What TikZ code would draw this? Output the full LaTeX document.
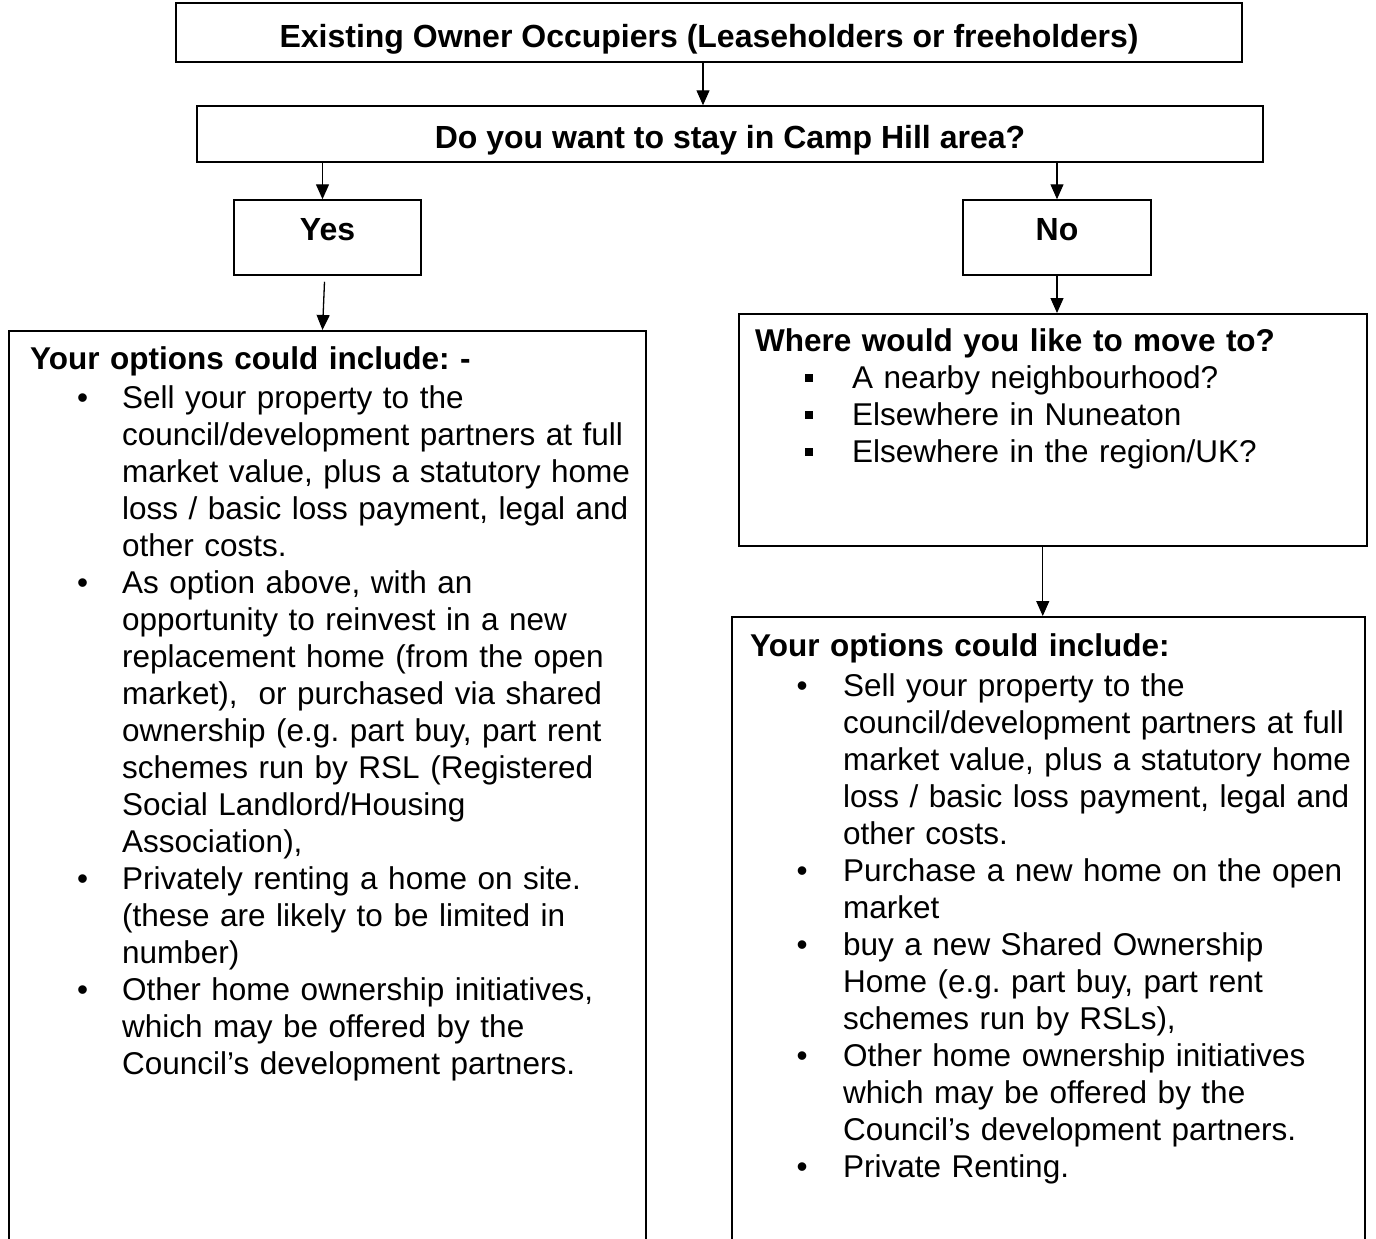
\documentclass[tikz,border=0pt]{standalone}
\usepackage{fontspec}
\setmainfont{Liberation Sans}
\usepackage{enumitem}
\usetikzlibrary{arrows.meta}

\newcommand{\testo}{\fontsize{31.5pt}{37pt}\selectfont}
\newcommand{\testotitolo}{\fontsize{32pt}{37pt}\selectfont}
\newcommand{\quadretto}{\rule[6pt]{8pt}{8pt}}
\setlist[itemize]{topsep=2pt, partopsep=0pt, itemsep=0pt, parsep=0pt, label=\textbullet}
\frenchspacing

\begin{document}
\begin{tikzpicture}[x=1pt, y=-1pt,
    riquadro/.style={draw, line width=1.5pt, inner sep=0pt},
    titolo/.style={riquadro, font=\testotitolo\bfseries, anchor=base},
    cornice/.style={riquadro, anchor=north west},
    elenco/.style={font=\testo, inner sep=0pt, text width=#1, align=left, anchor=base west},
    freccia/.style={-{Triangle[length=15pt,width=13pt]}, line width=1.3pt}]

    \useasboundingbox (0,0) rectangle (1376,1239);
    \clip (0,0) rectangle (1376,1239);

    % Domande
    \node[titolo, minimum width=1066pt, text height=45pt, text depth=14pt] (owners) at (709,48) {Existing Owner Occupiers (Leaseholders or freeholders)};
    \node[titolo, minimum width=1066pt, text height=42pt, text depth=14pt] (stay) at (730,148) {Do you want to stay in Camp Hill area?};

    % Risposte
    \node[titolo, minimum width=187pt, text height=40pt, text depth=35pt] (yes) at (327.5,240) {Yes};
    \node[titolo, minimum width=188pt, text height=40pt, text depth=35pt] (no) at (1057,240) {No};

    % Cornici (aperte in basso)
    \node[cornice, minimum width=637pt, minimum height=970pt] (stayopts) at (8,330) {};
    \node[cornice, minimum width=628pt, minimum height=232pt] (where) at (738,313) {};
    \node[cornice, minimum width=633pt, minimum height=700pt] (moveopts) at (731,616) {};

    % Testo a sinistra
    \node[elenco=640pt] (staytxt) at (30,369) {\textbf{Your options could include: -}
      \begin{itemize}[leftmargin=92pt, labelsep=34pt]
        \item Sell your property to the\\ council/development partners at full\\ market value, plus a statutory home\\ loss / basic loss payment, legal and\\ other costs.
        \item As option above, with an\\ opportunity to reinvest in a new\\ replacement home (from the open\\ market),\ \ or purchased via shared\\ ownership (e.g. part buy, part rent\\ schemes run by RSL (Registered\\ Social Landlord/Housing\\ Association),
        \item Privately renting a home on site.\\ (these are likely to be limited in\\ number)
        \item Other home ownership initiatives,\\ which may be offered by the\\ Council’s development partners.
      \end{itemize}};

    % Testo a destra
    \node[elenco=640pt] (wheretxt) at (755,351) {\textbf{Where would you like to move to?}
      \begin{itemize}[leftmargin=97pt, labelsep=39pt, topsep=0pt, label=\quadretto]
        \item A nearby neighbourhood?
        \item Elsewhere in Nuneaton
        \item Elsewhere in the region/UK?
      \end{itemize}};

    \node[elenco=640pt] (movetxt) at (750,656) {\textbf{Your options could include:}
      \begin{itemize}[leftmargin=93pt, labelsep=35.5pt, topsep=3pt]
        \item Sell your property to the\\ council/development partners at full\\ market value, plus a statutory home\\ loss / basic loss payment, legal and\\ other costs.
        \item Purchase a new home on the open\\ market
        \item buy a new Shared Ownership\\ Home (e.g. part buy, part rent\\ schemes run by RSLs),
        \item Other home ownership initiatives\\ which may be offered by the\\ Council’s development partners.
        \item Private Renting.
      \end{itemize}};

    % Frecce
    \draw[freccia] ([xshift=-6pt]owners.south) -- ([xshift=-6pt]owners.south |- stay.north);
    \draw[freccia] ([xshift=-5pt]yes.north |- stay.south) -- ([xshift=-5pt]yes.north);
    \draw[freccia] (no.north |- stay.south) -- (no.north);
    \draw[freccia] ([xshift=-3pt,yshift=-6pt]yes.south) -- ([xshift=-5pt]yes.south |- stayopts.north);
    \draw[freccia] (no.south) -- (no.south |- where.north);
    \draw[freccia] ([xshift=-10pt]where.south) -- ([xshift=-10pt]where.south |- moveopts.north);
\end{tikzpicture}
\end{document}
